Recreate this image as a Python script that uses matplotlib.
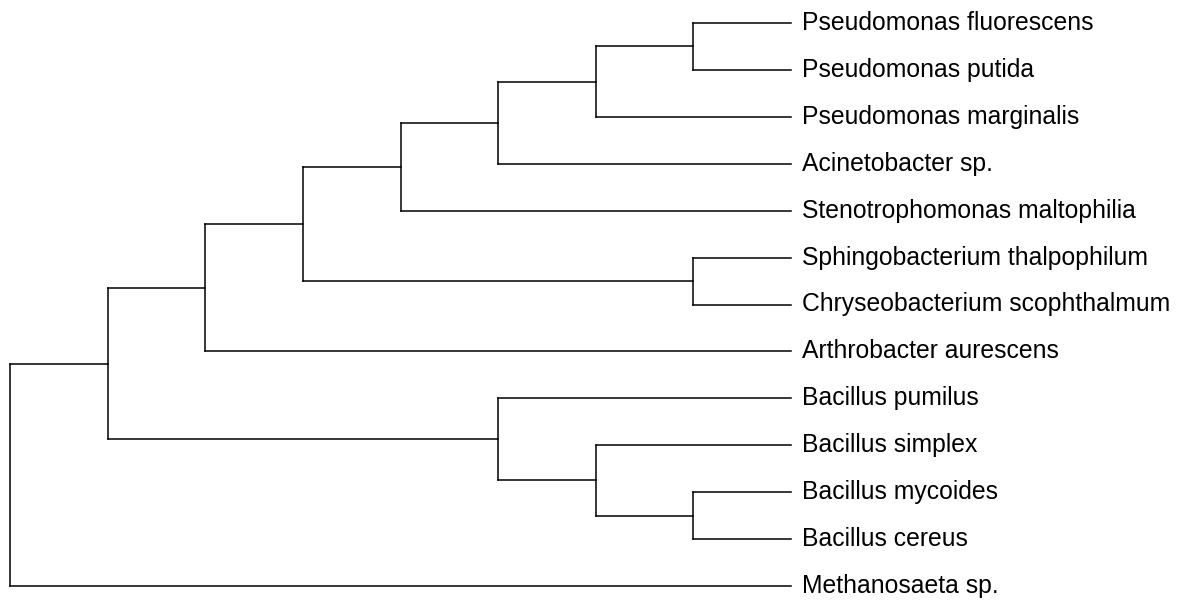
import matplotlib
matplotlib.use('Agg')
import matplotlib.pyplot as plt

plt.rcParams['font.family'] = ['Liberation Sans', 'DejaVu Sans']

# leaf labels, top to bottom
leaves = ['Pseudomonas fluorescens', 'Pseudomonas putida', 'Pseudomonas marginalis',
          'Acinetobacter sp.', 'Stenotrophomonas maltophilia', 'Sphingobacterium thalpophilum',
          'Chryseobacterium scophthalmum', 'Arthrobacter aurescens', 'Bacillus pumilus',
          'Bacillus simplex', 'Bacillus mycoides', 'Bacillus cereus', 'Methanosaeta sp.']

# merges: new clusters get ids 13, 14, ... in this order
merge_a = [0, 13, 14, 15, 5, 16, 18, 10, 9, 8, 19, 23]
merge_b = [1, 2, 3, 4, 6, 17, 7, 11, 20, 21, 22, 12]
merge_h = [1, 2, 3, 4, 1, 5, 6, 1, 2, 3, 7, 8]


def main():
    fig = plt.figure(figsize=(11.91, 6), dpi=100)
    ax = fig.add_axes([10 / 1191, 14 / 600, 781 / 1191, 563 / 600])

    ypos = {i: float(i) for i in range(len(leaves))}
    hpos = {i: 0.0 for i in range(len(leaves))}

    for k, (a, b, h) in enumerate(zip(merge_a, merge_b, merge_h)):
        node = len(leaves) + k
        # horizontal arms from children up to the merge height
        for c in (a, b):
            ax.plot([hpos[c], h], [ypos[c], ypos[c]], color='black', lw=1.1,
                    solid_capstyle='projecting', clip_on=False)
        # vertical connector
        ax.plot([h, h], [ypos[a], ypos[b]], color='black', lw=1.1,
                solid_capstyle='projecting', clip_on=False)
        ypos[node] = (ypos[a] + ypos[b]) / 2
        hpos[node] = h

    for i, name in enumerate(leaves):
        ax.annotate(name, (0, i), xytext=(8, 0), textcoords='offset points',
                    va='center', ha='left', fontsize=17.8, annotation_clip=False)

    ax.set_xlim(8, 0)
    ax.set_ylim(len(leaves) - 1, 0)
    ax.axis('off')

    fig.savefig('out.png', dpi=100)
    plt.close(fig)


if __name__ == '__main__':
    main()
